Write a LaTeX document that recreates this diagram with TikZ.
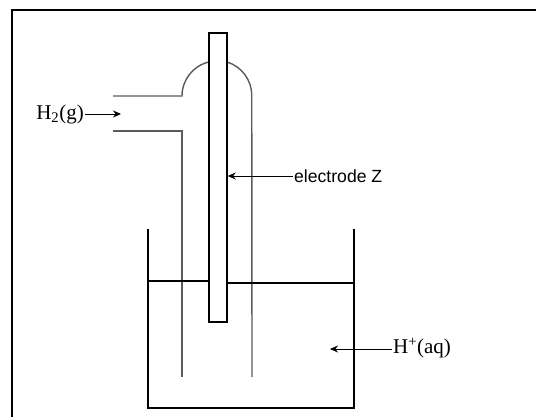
\documentclass[tikz,border=0pt]{standalone}
\usepackage{fontspec}
\setmainfont{Liberation Serif}
\newfontfamily\labelsans{Liberation Sans}
\usetikzlibrary{shapes.geometric, arrows, arrows.meta, positioning}
\definecolor{tubegray}{RGB}{90,90,90}
\tikzstyle{arrow} = [line width=0.9pt,->,>={Stealth[length=8pt, width=7pt]}]
\tikzset{
	wall/.style={line width=1.8pt, black},
	tube/.style={line width=1.4pt, tubegray},
	rod/.style={rectangle, draw=black, line width=1.5pt, fill=white, minimum width=18pt, minimum height=289pt, inner sep=0pt},
	serif/.style={font=\fontsize{21}{23}\selectfont, inner sep=1pt},
	sans/.style={font=\labelsans\fontsize{17.6}{19}\selectfont, inner sep=1pt}
}
\begin{document}
\begin{tikzpicture}[x=1pt, y=-1pt]
			\useasboundingbox (0,0) rectangle (536,417);
			% Frame
			\draw [wall] (536,10) -- (12,10) -- (12,417);
			
			% Beaker and liquid
			\draw [wall] (148,229) -- (148,408) -- (354,408) -- (354,229);
			
			% Gas tube
			\draw [tube] (113,96) -- (182,96) arc[start angle=180, end angle=257, radius=35];
			\draw [tube] (113,131) -- (182,131) -- (182,377);
			\draw [tube] (227,62) arc[start angle=287, end angle=360, radius=35] -- (252,377);
			
			% Electrode
			\node (rod) [rod] at (218,177.5) {};
			\draw [wall, line width=1.4pt] (148,281) -- (rod.west |- 0,281);
			\draw [wall, line width=1.4pt] (rod.east |- 0,283) -- (354,283);
			
			% Labels
			\node (gas) [serif, anchor=east] at (85,114) {H\textsubscript{2}(g)};
			\coordinate (gasin) at (121,114);
			\node (elZ) [sans, anchor=west] at (293,176) {electrode Z};
			\node (acid) [serif, anchor=west] at (392,348) {H\textsuperscript{+}(aq)};
			\coordinate (acidpt) at (330,349);
			
			% Arrows
			\draw [arrow] (gas.east) -- (gasin);
			\draw [arrow] (elZ.west) -- (rod.east |- elZ.west);
			\draw [arrow] (acid.west |- acidpt) -- (acidpt);
		\end{tikzpicture}
\end{document}
